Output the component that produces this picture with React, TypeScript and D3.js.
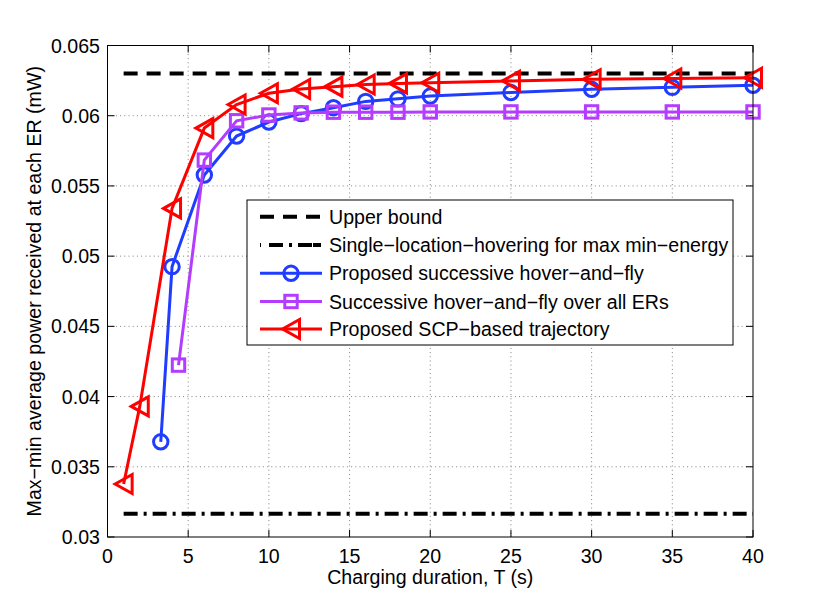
import React from "react";
import * as d3 from "d3";

const W = 830;
const H = 605;

const xTicks = [0, 5, 10, 15, 20, 25, 30, 35, 40];
const yTicks = [0.03, 0.035, 0.04, 0.045, 0.05, 0.055, 0.06, 0.065];
const yTickLabels = ["0.03", "0.035", "0.04", "0.045", "0.05", "0.055", "0.06", "0.065"];

const boundT = [1, 40];
const upperBound = [0.063, 0.063];
const singleLoc = [0.03165, 0.03165];

const tBlue = [3.3, 4, 6, 8, 10, 12, 14, 16, 18, 20, 25, 30, 35, 40];
const blueVals = [0.03678, 0.04925, 0.05578, 0.05855, 0.05955, 0.06015, 0.06057, 0.06102, 0.0612, 0.0614, 0.06165, 0.06188, 0.06202, 0.06217];

const tPurple = [4.4, 6, 8, 10, 12, 14, 16, 18, 20, 25, 30, 35, 40];
const purpleVals = [0.04224, 0.05684, 0.05964, 0.06005, 0.0602, 0.06025, 0.06025, 0.06025, 0.06027, 0.06027, 0.06027, 0.06027, 0.06027];

const tRed = [1, 2, 4, 6, 8, 10, 12, 14, 16, 18, 20, 25, 30, 35, 40];
const redVals = [0.03377, 0.0393, 0.0534, 0.05912, 0.0608, 0.0616, 0.0619, 0.06207, 0.06222, 0.0623, 0.06235, 0.06248, 0.0626, 0.06265, 0.0627];

const legendLabels = [
  "Upper bound",
  "Single\u2212location\u2212hovering for max min\u2212energy",
  "Proposed successive hover\u2212and\u2212fly",
  "Successive hover\u2212and\u2212fly over all ERs",
  "Proposed SCP\u2212based trajectory",
];

const BLUE = "#1f3cff";
const PURPLE = "#b43cff";
const RED = "#ff0000";
const FONT = "'Liberation Sans', Arial, Helvetica, sans-serif";
const FS = 19.6;

const margin = { left: 107.5, right: 753, top: 45.5, bottom: 537 };

const x = d3.scaleLinear().domain([0, 40]).range([margin.left, margin.right]);
const y = d3.scaleLinear().domain([0.03, 0.065]).range([margin.bottom, margin.top]);

const lineGen = d3
  .line<[number, number]>()
  .x((d) => x(d[0]))
  .y((d) => y(d[1]));

const zip = (a: number[], b: number[]): [number, number][] => a.map((v, i) => [v, b[i]]);

function Circle({ cx, cy, color }: { cx: number; cy: number; color: string }) {
  return <circle cx={cx} cy={cy} r={7.2} fill="none" stroke={color} strokeWidth={3} />;
}
function Square({ cx, cy, color }: { cx: number; cy: number; color: string }) {
  const s = 6.2;
  return <rect x={cx - s} y={cy - s} width={2 * s} height={2 * s} fill="none" stroke={color} strokeWidth={3} />;
}
function TriLeft({ cx, cy, color }: { cx: number; cy: number; color: string }) {
  const hw = 8.5;
  const hh = 9.5;
  const pts = `${cx - hw},${cy} ${cx + hw},${cy - hh} ${cx + hw},${cy + hh}`;
  return <polygon points={pts} fill="none" stroke={color} strokeWidth={3} strokeLinejoin="miter" />;
}

export default function App() {
  const pw = margin.right - margin.left;
  const ph = margin.bottom - margin.top;
  const blue = zip(tBlue, blueVals);
  const purple = zip(tPurple, purpleVals);
  const red = zip(tRed, redVals);

  const legX = 247;
  const legY = 200;
  const legW = 486;
  const legH = 145;
  const rowY = [216.7, 245, 273.3, 301.5, 329];
  const sx0 = 260;
  const sx1 = 322;
  const smid = (sx0 + sx1) / 2;

  return (
    <div style={{ position: "absolute", left: 0, top: 0, width: W, height: H, background: "#fff" }}>
      <svg width={W} height={H} style={{ display: "block", fontFamily: FONT }}>
        <rect x={0} y={0} width={W} height={H} fill="#fff" />
        {/* grid */}
        <g stroke="#808080" strokeWidth={1} strokeDasharray="1 3.2">
          {xTicks.slice(1, -1).map((t) => (
            <line key={"gx" + t} x1={x(t)} x2={x(t)} y1={margin.top} y2={margin.bottom} />
          ))}
          {yTicks.slice(1, -1).map((t) => (
            <line key={"gy" + t} x1={margin.left} x2={margin.right} y1={y(t)} y2={y(t)} />
          ))}
        </g>
        {/* ticks */}
        <g stroke="#000" strokeWidth={1}>
          {xTicks.map((t) => (
            <g key={"tx" + t}>
              <line x1={x(t)} x2={x(t)} y1={margin.bottom} y2={margin.bottom - 7} />
              <line x1={x(t)} x2={x(t)} y1={margin.top} y2={margin.top + 7} />
            </g>
          ))}
          {yTicks.map((t) => (
            <g key={"ty" + t}>
              <line x1={margin.left} x2={margin.left + 7} y1={y(t)} y2={y(t)} />
              <line x1={margin.right} x2={margin.right - 7} y1={y(t)} y2={y(t)} />
            </g>
          ))}
        </g>
        {/* reference lines */}
        <path
          d={lineGen(zip(boundT, upperBound)) || ""}
          fill="none"
          stroke="#000"
          strokeWidth={4}
          strokeDasharray="14 9"
        />
        <path
          d={lineGen(zip(boundT, singleLoc)) || ""}
          fill="none"
          stroke="#000"
          strokeWidth={4}
          strokeDasharray="14 6 3 6"
        />
        {/* series */}
        <path d={lineGen(blue) || ""} fill="none" stroke={BLUE} strokeWidth={3} />
        {blue.map((d, i) => (
          <Circle key={"b" + i} cx={x(d[0])} cy={y(d[1])} color={BLUE} />
        ))}
        <path d={lineGen(purple) || ""} fill="none" stroke={PURPLE} strokeWidth={3} />
        {purple.map((d, i) => (
          <Square key={"p" + i} cx={x(d[0])} cy={y(d[1])} color={PURPLE} />
        ))}
        <path d={lineGen(red) || ""} fill="none" stroke={RED} strokeWidth={3} />
        {red.map((d, i) => (
          <TriLeft key={"r" + i} cx={x(d[0])} cy={y(d[1])} color={RED} />
        ))}
        {/* axes box */}
        <rect x={margin.left} y={margin.top} width={pw} height={ph} fill="none" stroke="#000" strokeWidth={1} />
        {/* tick labels */}
        <g fontSize={FS} fill="#000">
          {xTicks.map((t) => (
            <text key={"lx" + t} x={x(t)} y={562.5} textAnchor="middle">
              {t}
            </text>
          ))}
          {yTicks.map((t, i) => (
            <text key={"ly" + t} x={100} y={y(t) + 7} textAnchor="end">
              {yTickLabels[i]}
            </text>
          ))}
        </g>
        {/* axis titles */}
        <text x={(margin.left + margin.right) / 2} y={584} textAnchor="middle" fontSize={FS}>
          Charging duration, T (s)
        </text>
        <text
          transform={`translate(41, ${(margin.top + margin.bottom) / 2}) rotate(-90)`}
          textAnchor="middle"
          fontSize={FS}
        >
          Max{"\u2212"}min average power received at each ER (mW)
        </text>
        {/* legend */}
        <rect x={legX} y={legY} width={legW} height={legH} fill="#fff" stroke="#000" strokeWidth={1} />
        <line x1={sx0} x2={sx1} y1={rowY[0]} y2={rowY[0]} stroke="#000" strokeWidth={4} strokeDasharray="14 9" />
        <line x1={sx0} x2={sx1} y1={rowY[1]} y2={rowY[1]} stroke="#000" strokeWidth={4} strokeDasharray="1 8 14 6 3 6 14" />
        <line x1={sx0} x2={sx1} y1={rowY[2]} y2={rowY[2]} stroke={BLUE} strokeWidth={3} />
        <Circle cx={smid} cy={rowY[2]} color={BLUE} />
        <line x1={sx0} x2={sx1} y1={rowY[3]} y2={rowY[3]} stroke={PURPLE} strokeWidth={3} />
        <Square cx={smid} cy={rowY[3]} color={PURPLE} />
        <line x1={sx0} x2={sx1} y1={rowY[4]} y2={rowY[4]} stroke={RED} strokeWidth={3} />
        <TriLeft cx={smid} cy={rowY[4]} color={RED} />
        <g fontSize={FS} fill="#000">
          {legendLabels.map((l, i) => (
            <text key={"lg" + i} x={329} y={rowY[i] + 7}>
              {l}
            </text>
          ))}
        </g>
      </svg>
    </div>
  );
}
